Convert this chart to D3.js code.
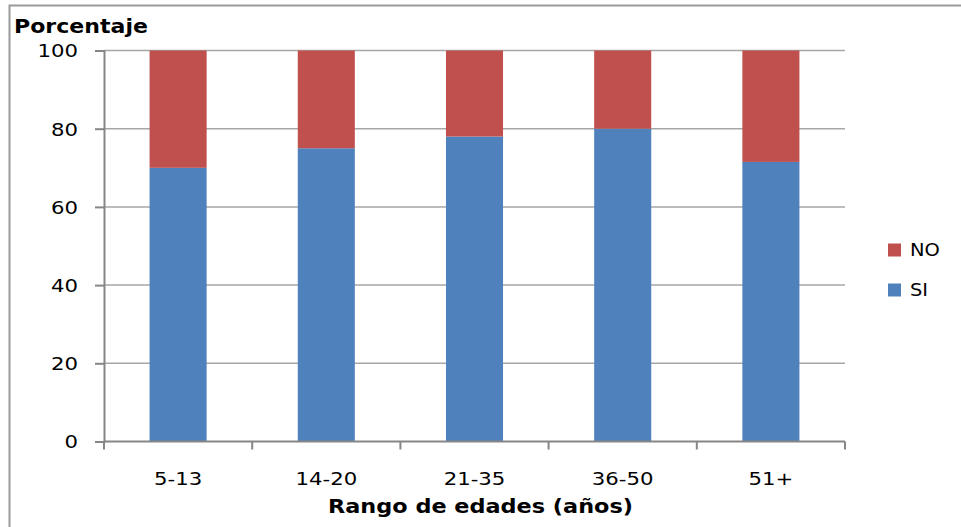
<!DOCTYPE html>
<html><head><meta charset="utf-8">
<script src="https://cdn.jsdelivr.net/npm/d3@7"></script>
<style>html,body{margin:0;padding:0;background:#fff;overflow:hidden}</style>
</head><body>
<script>
const categories = ["5-13", "14-20", "21-35", "36-50", "51+"];
const siValues = [70, 75, 78, 80, 71.5];
const noValues = [30, 25, 22, 20, 28.5];
const yTicks = [0, 20, 40, 60, 80, 100];
const seriesNames = ["NO", "SI"];
const colors = {SI: "#4F81BD", NO: "#C0504D"};

const W = 961, H = 527;
const m = {left: 104, right: 845, top: 50.5, bottom: 441.5};
const svg = d3.select("body").append("svg").attr("width", W).attr("height", H);

function stretch(sel, factor) {
  sel.each(function () {
    const w = this.getComputedTextLength();
    d3.select(this).attr("textLength", w * factor).attr("lengthAdjust", "spacingAndGlyphs");
  });
}

// outer frame
svg.append("rect").attr("x", 9.5).attr("y", 5.5).attr("width", 1000).attr("height", 1000)
  .attr("fill", "none").attr("stroke", "#9a9a9a").attr("stroke-width", 2);

const x = d3.scaleBand().domain(categories).range([m.left, m.right]).paddingInner(0.615).paddingOuter(0.3075);
const xb = d3.scaleBand().domain(categories).range([m.left, m.right]);
const y = d3.scaleLinear().domain([0, 100]).range([m.bottom, m.top]);

// gridlines
svg.append("g").selectAll("line").data(yTicks.filter(d => d > 0)).join("line")
  .attr("x1", m.left).attr("x2", m.right)
  .attr("y1", d => y(d)).attr("y2", d => y(d))
  .attr("stroke", "#a6a6a6").attr("stroke-width", 1.5);

const font = "'DejaVu Sans', Verdana, sans-serif";

// bars
const data = categories.map((c, i) => ({cat: c, SI: siValues[i], NO: noValues[i]}));
const stack = d3.stack().keys(["SI", "NO"])(data);
svg.append("g").selectAll("g").data(stack).join("g")
  .attr("fill", d => colors[d.key])
  .selectAll("rect").data(d => d).join("rect")
  .attr("x", d => x(d.data.cat))
  .attr("width", x.bandwidth())
  .attr("y", d => y(d[1]))
  .attr("height", d => y(d[0]) - y(d[1]));

// y axis
const yAxis = d3.axisLeft(y).tickValues(yTicks).tickSize(9).tickPadding(17);
const gy = svg.append("g").attr("transform", `translate(${m.left},0)`).call(yAxis);
gy.select(".domain").attr("stroke", "#868686").attr("stroke-width", 2);
gy.selectAll(".tick line").attr("stroke", "#868686").attr("stroke-width", 2);
gy.selectAll(".tick text").attr("font-family", font).attr("font-size", 18).attr("fill", "#000")
  .attr("dy", "0.36em");
stretch(gy.selectAll(".tick text"), 1.18);

// x axis
const gx = svg.append("g").attr("transform", `translate(0,${m.bottom})`)
  .call(d3.axisBottom(x).tickSize(0).tickPadding(31));
gx.select(".domain").remove();
gx.selectAll(".tick text").attr("font-family", font).attr("font-size", 18).attr("fill", "#000")
  .attr("dy", "0.71em");
stretch(gx.selectAll(".tick text"), 1.18);
svg.append("line").attr("x1", m.left).attr("x2", m.right).attr("y1", m.bottom).attr("y2", m.bottom)
  .attr("stroke", "#868686").attr("stroke-width", 2);
const bounds = categories.map(c => xb(c)).concat([m.right]);
svg.append("g").selectAll("line").data(bounds).join("line")
  .attr("x1", d => d).attr("x2", d => d).attr("y1", m.bottom).attr("y2", m.bottom + 8)
  .attr("stroke", "#868686").attr("stroke-width", 2);

// titles
const t1 = svg.append("text").attr("x", 14).attr("y", 33).text("Porcentaje")
  .attr("font-family", font).attr("font-weight", "bold").attr("font-size", 20).attr("fill", "#000");
t1.attr("textLength", 134).attr("lengthAdjust", "spacingAndGlyphs");
const t2 = svg.append("text").attr("x", 480.5).attr("y", 513).attr("text-anchor", "middle")
  .text("Rango de edades (años)")
  .attr("font-family", font).attr("font-weight", "bold").attr("font-size", 20).attr("fill", "#000");
t2.attr("textLength", 305).attr("lengthAdjust", "spacingAndGlyphs");

// legend
const lg = svg.append("g");
const legendY = {NO: 250, SI: 290};
seriesNames.forEach(k => {
  lg.append("rect").attr("x", 888).attr("y", legendY[k] - 6.5).attr("width", 13).attr("height", 13).attr("fill", colors[k]);
  lg.append("text").attr("x", 910).attr("y", legendY[k]).attr("dy", "0.36em").text(k)
    .attr("font-family", font).attr("font-size", 18).attr("fill", "#000");
});
stretch(lg.selectAll("text"), 1.08);
</script>
</body></html>
